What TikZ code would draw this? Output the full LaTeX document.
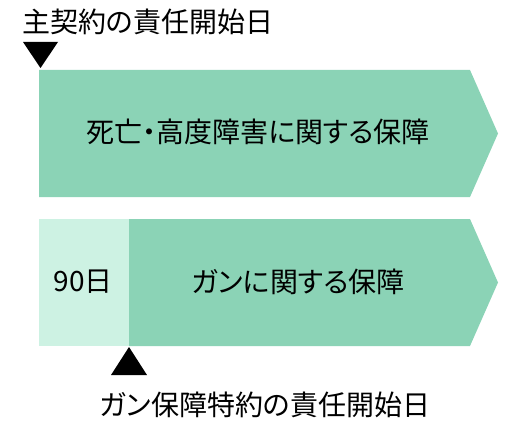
\documentclass[tikz,border=0pt]{standalone}
\usepackage{fontspec}
\setmainfont{Noto Sans CJK JP}[RawFeature=+palt]
\definecolor{darkg}{RGB}{139,211,182}
\definecolor{lightg}{RGB}{205,242,227}
\begin{document}
\begin{tikzpicture}[x=1pt,y=-1pt,
  lbl/.style={font=\fontsize{28}{32}\selectfont, inner sep=0pt, text=black},
  tri/.style={fill=black, draw=none}]
\useasboundingbox (0,0) rectangle (530,428);
% top bar
\fill[darkg] (39,70) -- (470,70) -- (498,133.5) -- (470,197) -- (39,197) -- cycle;
\node[lbl] (t1) at (258,132) {死亡・高度障害に関する保障};
% bottom bar
\fill[darkg] (129,219) -- (470,219) -- (498,282.5) -- (470,346) -- (129,346) -- cycle;
\fill[lightg] (39,219) rectangle (129,346);
\node[lbl] (t2) at (298,282) {ガンに関する保障};
\node[lbl] (t3) at (83,282) {90日};
% top marker
\node[lbl, anchor=west] (h1) at (22,21.5) {主契約の責任開始日};
\fill[tri] (23,42) -- (58,42) -- (40.5,68) -- cycle;
% bottom marker
\fill[tri] (111,375) -- (147,375) -- (129,347) -- cycle;
\node[lbl] (h2) at (265,405) {ガン保障特約の責任開始日};
\end{tikzpicture}
\end{document}
